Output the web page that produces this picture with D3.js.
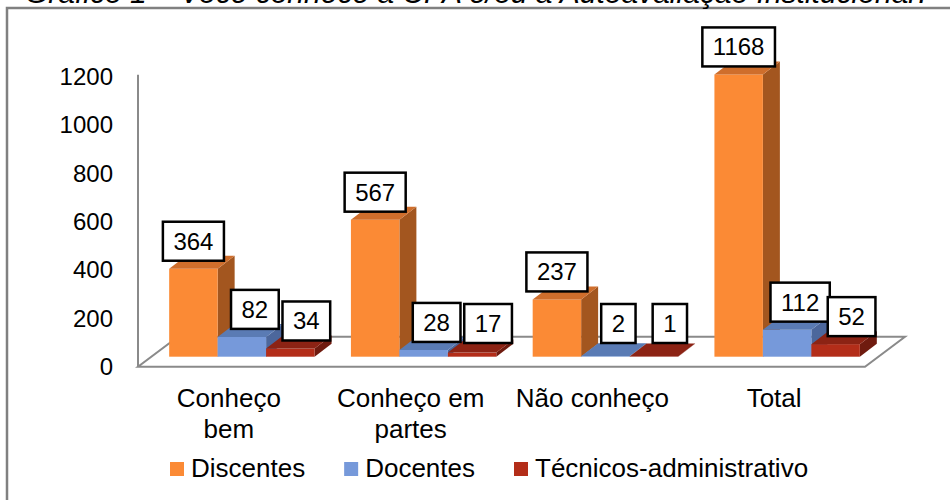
<!DOCTYPE html>
<html>
<head>
<meta charset="utf-8">
<script src="https://cdn.jsdelivr.net/npm/d3@7"></script>
<style>
  html, body { margin: 0; padding: 0; background: #ffffff; }
  svg { display: block; font-family: "Liberation Sans", Arial, sans-serif; }
</style>
</head>
<body>
<svg id="chart" width="950" height="500"></svg>
<script>
// ---- data ----
const titleText = "Gráfico 1 – Você conhece a CPA e/ou a Autoavaliação Institucional?";
const categories = ["Conheço bem", "Conheço em partes", "Não conheço", "Total"];
const seriesNames = ["Discentes", "Docentes", "Técnicos-administrativo"];
const discentes = [364, 567, 237, 1168];
const docentes = [82, 28, 2, 112];
const tecnicos = [34, 17, 1, 52];
const yTicks = [0, 200, 400, 600, 800, 1000, 1200];

// ---- styles ----
const faceColors = [
  { front: "#FB8A35", top: "#CF6E2C", side: "#A3561F" },
  { front: "#7699DA", top: "#5A7BB4", side: "#4C679C" },
  { front: "#B32D19", top: "#8C2314", side: "#6F1B0F" }
];
const labelShift = [0, 13, 16];
const seriesValues = [discentes, docentes, tecnicos];

const svg = d3.select("#chart");

// frame (extends beyond the visible area)
svg.append("rect").attr("x", 7).attr("y", 8).attr("width", 1000).attr("height", 600)
  .attr("fill", "none").attr("stroke", "#808080").attr("stroke-width", 2.5);

// title (cut off at the top edge, as in the source)
svg.append("text").attr("x", 25).attr("y", 3)
  .attr("font-size", 30).attr("font-style", "italic").attr("fill", "#000")
  .text(titleText);

// scales
const x = d3.scaleBand().domain(categories).range([138, 865]).paddingInner(0.2).paddingOuter(0.1);
const xs = d3.scaleBand().domain(seriesNames).range([0, x.bandwidth()]);
const y = d3.scaleLinear().domain([0, 1200]).range([366.7, 76.7]);

const floorDepth = { dx: 40, dy: -30 };
const barFront = { dx: 13, dy: -10 };
const barDepth = { dx: 17, dy: -13 };

// floor
const [x0r, x1r] = x.range();
svg.append("polygon")
  .attr("points", [
    [x0r, y(0)], [x1r, y(0)],
    [x1r + floorDepth.dx, y(0) + floorDepth.dy],
    [x0r + floorDepth.dx, y(0) + floorDepth.dy]
  ].map(p => p.join(",")).join(" "))
  .attr("fill", "#fff").attr("stroke", "#8a8a8a").attr("stroke-width", 2);

// vertical axis line
svg.append("line").attr("x1", x0r).attr("x2", x0r)
  .attr("y1", y(1200) - 2).attr("y2", y(0))
  .attr("stroke", "#8a8a8a").attr("stroke-width", 2);

// y axis labels
const yAxis = svg.append("g").attr("transform", `translate(${x0r},0)`)
  .call(d3.axisLeft(y).tickValues(yTicks).tickSize(0).tickPadding(25).tickFormat(d3.format("d")));
yAxis.select(".domain").remove();
yAxis.selectAll("text").attr("font-size", 24).attr("fill", "#000")
  .attr("font-family", "Liberation Sans, Arial, sans-serif");

// bars
const bars = [];
categories.forEach((cat, i) => {
  seriesNames.forEach((s, j) => {
    const v = seriesValues[j][i];
    const bx = x(cat) + xs(s) + barFront.dx;
    const w = xs.bandwidth();
    const bottom = y(0) + barFront.dy;
    const top = y(v) + barFront.dy;
    bars.push({ cat, s, j, v, bx, w, top, bottom });
  });
});

const gBars = svg.append("g");
bars.forEach(b => {
  const c = faceColors[b.j];
  const g = gBars.append("g");
  g.append("polygon").attr("points", [
    [b.bx + b.w, b.top], [b.bx + b.w + barDepth.dx, b.top + barDepth.dy],
    [b.bx + b.w + barDepth.dx, b.bottom + barDepth.dy], [b.bx + b.w, b.bottom]
  ].map(p => p.join(",")).join(" ")).attr("fill", c.side);
  g.append("rect").attr("x", b.bx).attr("y", b.top)
    .attr("width", b.w).attr("height", Math.max(0, b.bottom - b.top)).attr("fill", c.front);
  g.append("polygon").attr("points", [
    [b.bx, b.top], [b.bx + b.w, b.top],
    [b.bx + b.w + barDepth.dx, b.top + barDepth.dy], [b.bx + barDepth.dx, b.top + barDepth.dy]
  ].map(p => p.join(",")).join(" ")).attr("fill", c.top);
});

// data labels
const gLab = svg.append("g");
bars.forEach(b => {
  const cx = b.bx + b.w / 2 + labelShift[b.j];
  const boxBottom = Math.min(b.top - 8, 343);
  const boxH = 39;
  const g = gLab.append("g");
  const rect = g.append("rect");
  const t = g.append("text").attr("x", cx).attr("y", boxBottom - boxH / 2 + 8.5)
    .attr("text-anchor", "middle").attr("font-size", 24).attr("fill", "#000").text(b.v);
  const tw = t.node().getComputedTextLength();
  const bw = tw + 21;
  rect.attr("x", cx - bw / 2).attr("y", boxBottom - boxH).attr("width", bw).attr("height", boxH)
    .attr("fill", "#fff").attr("stroke", "#000").attr("stroke-width", 2.5);
});

// category labels (wrapped)
const catFont = 26;
const gCat = svg.append("g");
categories.forEach(cat => {
  const t = gCat.append("text").attr("text-anchor", "middle").attr("font-size", catFont).attr("fill", "#000");
  const words = cat.split(" ");
  const lines = [];
  let cur = [];
  const probe = svg.append("text").attr("font-size", catFont);
  words.forEach(wd => {
    const test = cur.concat([wd]).join(" ");
    probe.text(test);
    if (probe.node().getComputedTextLength() > 158 && cur.length) {
      lines.push(cur.join(" "));
      cur = [wd];
    } else cur.push(wd);
  });
  lines.push(cur.join(" "));
  probe.remove();
  const cx = x(cat) + x.bandwidth() / 2;
  lines.forEach((ln, k) => {
    t.append("tspan").attr("x", cx).attr("y", 407 + k * 31).text(ln);
  });
});

// legend
const gLeg = svg.append("g");
let lx = 170;
seriesNames.forEach((s, j) => {
  gLeg.append("rect").attr("x", lx).attr("y", 462).attr("width", 14).attr("height", 14)
    .attr("fill", faceColors[j].front);
  const t = gLeg.append("text").attr("x", lx + 21).attr("y", 477)
    .attr("font-size", 26).attr("fill", "#000").text(s);
  lx += 21 + t.node().getComputedTextLength() + 39;
});
</script>
</body>
</html>
